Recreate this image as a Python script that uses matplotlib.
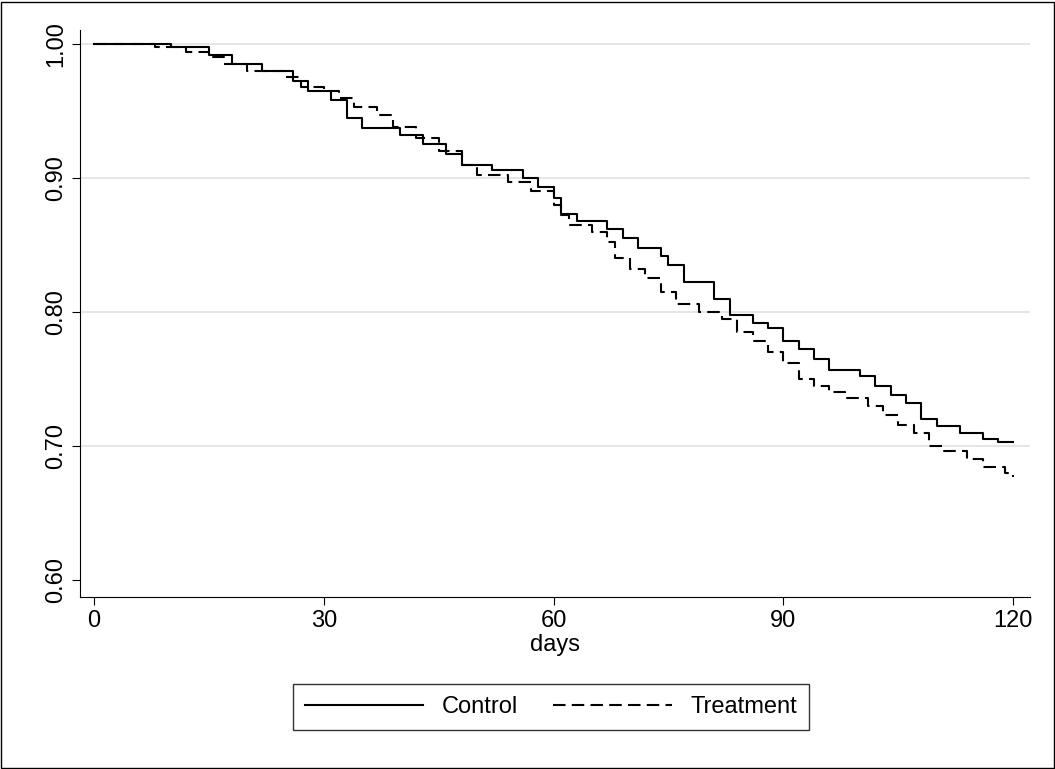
import matplotlib
matplotlib.use("Agg")
import matplotlib.pyplot as plt
from matplotlib.patches import Rectangle

# Kaplan-Meier style step data
ctrl_t = [0, 10, 15, 18, 22, 26, 28, 31, 33, 35, 40, 43, 46, 48, 52, 56, 58, 60, 61, 63,
          67, 69, 71, 74, 75, 77, 81, 83, 86, 88, 90, 92, 94, 96, 100, 102, 104, 106,
          108, 110, 113, 116, 118, 120]
ctrl_s = [1.0, 0.998, 0.992, 0.985, 0.98, 0.972, 0.965, 0.958, 0.945, 0.937, 0.932, 0.925,
          0.918, 0.91, 0.906, 0.90, 0.893, 0.885, 0.873, 0.868, 0.862, 0.855, 0.848, 0.842,
          0.835, 0.822, 0.81, 0.798, 0.792, 0.788, 0.778, 0.772, 0.765, 0.757, 0.752, 0.745,
          0.738, 0.732, 0.72, 0.715, 0.71, 0.705, 0.703, 0.703]
trt_t = [0, 8, 12, 15, 17, 20, 25, 27, 30, 32, 34, 37, 39, 42, 45, 48, 50, 54, 57, 60, 61,
         62, 65, 67, 68, 70, 72, 74, 76, 79, 82, 84, 86, 88, 90, 92, 94, 96, 98, 101, 103,
         105, 107, 109, 111, 114, 116, 119, 120]
trt_s = [1.0, 0.998, 0.994, 0.99, 0.985, 0.98, 0.975, 0.968, 0.965, 0.96, 0.953, 0.947,
         0.938, 0.93, 0.92, 0.91, 0.902, 0.897, 0.89, 0.88, 0.872, 0.865, 0.86, 0.852, 0.84,
         0.832, 0.825, 0.815, 0.806, 0.80, 0.795, 0.785, 0.778, 0.77, 0.762, 0.75, 0.745,
         0.74, 0.736, 0.73, 0.723, 0.716, 0.71, 0.70, 0.696, 0.69, 0.684, 0.68, 0.677]

x_ticks = [0, 30, 60, 90, 120]
y_ticks = [0.60, 0.70, 0.80, 0.90, 1.00]

plt.rcParams["font.family"] = ["Liberation Sans", "DejaVu Sans"]
fig = plt.figure(figsize=(10.55, 7.69), dpi=100)
fig.patches.append(Rectangle((0.001, 0.001), 0.998, 0.997, transform=fig.transFigure,
                             fill=False, edgecolor="black", linewidth=1))
ax = fig.add_axes([0.0758, 0.2237, 0.9005, 0.7373])

ax.step(ctrl_t, ctrl_s, where="post", color="black", linewidth=1.5, label="Control")
ax.step(trt_t, trt_s, where="post", color="black", linewidth=1.5,
        linestyle=(0, (6, 3)), label="Treatment")

ax.set_xlim(-1.83, 122.2)
ax.set_ylim(0.5873, 1.0104)
ax.set_xticks(x_ticks)
ax.set_yticks(y_ticks)
ax.set_yticklabels([f"{v:.2f}" for v in y_ticks], rotation=90, va="center")
ax.tick_params(labelsize=17, length=6, color="black")
for v in y_ticks[1:]:
    ax.axhline(v, color="#e0e0e0", linewidth=1.2, zorder=0)
ax.spines["top"].set_visible(False)
ax.spines["right"].set_visible(False)
ax.set_xlabel("days", fontsize=17, labelpad=1)

leg = fig.legend(loc="center", bbox_to_anchor=(551 / 1055, 1 - 707 / 769), ncol=2,
                 fontsize=17, frameon=True, fancybox=False, edgecolor="black",
                 handlelength=5.0, columnspacing=1.5, borderpad=0.5)
leg.get_frame().set_linewidth(1)

fig.savefig("out.png", dpi=100)
